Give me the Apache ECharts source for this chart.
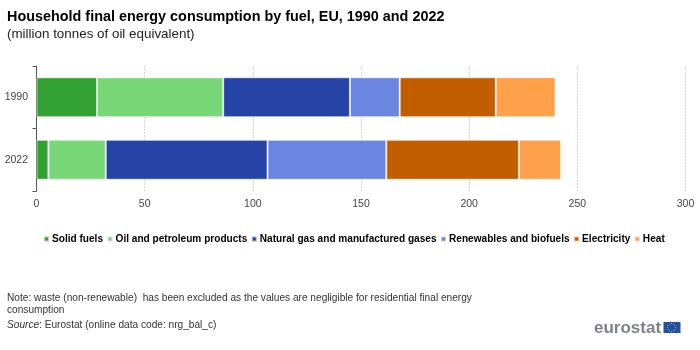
<!DOCTYPE html>
<html>
<head>
<meta charset="utf-8">
<style>
  html, body { margin: 0; padding: 0; background: #fff; }
  #chart { width: 700px; height: 350px; }
</style>
<script src="https://cdn.jsdelivr.net/npm/echarts@6/dist/echarts.min.js"></script>
</head>
<body>
<div id="chart"></div>
<script>
var years = ['1990', '2022'];
var fuels = ['Solid fuels', 'Oil and petroleum products', 'Natural gas and manufactured gases', 'Renewables and biofuels', 'Electricity', 'Heat'];
var colors = ['#33a033', '#78d878', '#2644a7', '#6a86e0', '#c25e00', '#ffa04a'];
var solidFuels = [28, 5.5];
var oilProducts = [58.3, 26.5];
var naturalGas = [58.6, 74.8];
var renewables = [23, 54.9];
var electricity = [44.4, 61.3];
var heat = [27.6, 19.5];
var seriesValues = [solidFuels, oilProducts, naturalGas, renewables, electricity, heat];
var xTicks = [0, 50, 100, 150, 200, 250, 300];

var font = '"Liberation Sans", Arial, sans-serif';
var chart = echarts.init(document.getElementById('chart'));

// EU flag stars for the logo
var stars = [];
for (var i = 0; i < 12; i++) {
    var a = i * Math.PI / 6;
    stars.push({
        type: 'circle',
        shape: { cx: 671.5 + 4 * Math.cos(a), cy: 327.5 + 4 * Math.sin(a), r: 0.5 },
        style: { fill: '#d8c83c' }
    });
}

chart.setOption({
    animation: false,
    title: [
        {
            text: 'Household final energy consumption by fuel, EU, 1990 and 2022',
            left: 7, top: 10, padding: 0,
            textStyle: { fontFamily: font, fontSize: 14.4, fontWeight: 'bold', color: '#000' }
        },
        {
            text: '(million tonnes of oil equivalent)',
            left: 7, top: 28, padding: 0,
            textStyle: { fontFamily: font, fontSize: 13.4, fontWeight: 'normal', color: '#222' }
        }
    ],
    legend: {
        data: fuels,
        left: 43, top: 234, padding: 0,
        icon: 'rect',
        itemWidth: 5, itemHeight: 5, itemGap: 3.5,
        textStyle: { fontFamily: font, fontSize: 10.1, fontWeight: 'bold', color: '#000', padding: [0, 0, 0, -2] }
    },
    grid: { left: 36.5, right: 14.5, top: 66, bottom: 159 },
    xAxis: {
        type: 'value',
        min: 0, max: 300, interval: 50,
        axisLine: { show: false },
        axisTick: { show: false },
        axisLabel: {
            fontFamily: font, fontSize: 10.5, color: '#444', margin: 8,
            formatter: function (v) { return xTicks.indexOf(v) >= 0 ? String(v) : ''; }
        },
        splitLine: { show: true, lineStyle: { color: '#d8d8d8', type: [2, 1], width: 1 } }
    },
    yAxis: {
        type: 'category',
        data: years,
        inverse: true,
        axisLine: { show: true, lineStyle: { color: '#555', width: 1 } },
        axisTick: { show: true, length: 4, lineStyle: { color: '#555' } },
        axisLabel: { fontFamily: font, fontSize: 10.5, color: '#444', margin: 8.5 }
    },
    series: fuels.map(function (name, i) {
        return {
            name: name,
            type: 'bar',
            stack: 'total',
            barWidth: 40,
            data: seriesValues[i],
            itemStyle: { color: colors[i], borderColor: 'rgba(255,255,255,0.6)', borderWidth: 1 }
        };
    }),
    graphic: [
        {
            type: 'text', left: 7, top: 292,
            style: {
                text: 'Note: waste (non-renewable)  has been excluded as the values are negligible for residential final energy\nconsumption',
                font: '10.15px ' + font, fill: '#333', lineHeight: 12
            }
        },
        {
            type: 'text', left: 7, top: 320,
            style: {
                rich: { i: { fontFamily: font, fontStyle: 'italic', fontSize: 10.15, fill: '#333' }, n: { fontFamily: font, fontSize: 10.15, fill: '#333' } },
                text: '{i|Source}{n|: Eurostat (online data code: nrg_bal_c)}'
            }
        },
        {
            type: 'text', left: 594, top: 320,
            style: { text: 'eurostat', font: 'bold 17px ' + font, fill: '#7c8290' }
        },
        {
            type: 'rect',
            shape: { x: 663.5, y: 322, width: 17, height: 11 },
            style: { fill: '#1f4fa8' }
        }
    ].concat(stars)
});
</script>
</body>
</html>
